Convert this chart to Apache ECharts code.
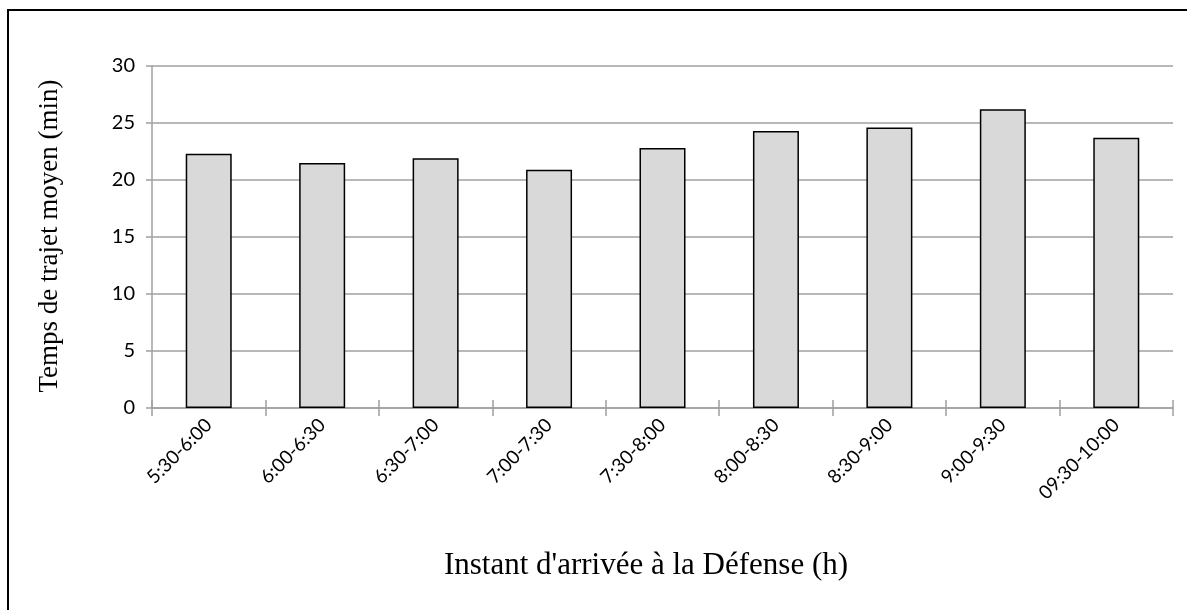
<!DOCTYPE html>
<html>
<head>
<meta charset="utf-8">
<script src="https://cdn.jsdelivr.net/npm/echarts@6/dist/echarts.min.js"></script>
<style>
html,body{margin:0;padding:0;background:#fff;}
#main{width:1187px;height:610px;}
</style>
</head>
<body>
<div id="main"></div>
<script>
const categories = ["5:30-6:00","6:00-6:30","6:30-7:00","7:00-7:30","7:30-8:00","8:00-8:30","8:30-9:00","9:00-9:30","09:30-10:00"];
const travelTimes = [22.3, 21.5, 21.9, 20.9, 22.8, 24.3, 24.6, 26.2, 23.7];
const yTitle = "Temps de trajet moyen (min)";
const xTitle = "Instant d'arrivée à la Défense (h)";

const chart = echarts.init(document.getElementById('main'), null, {renderer:'canvas'});
const gridCol = '#a0a0a0';
chart.setOption({
  animation:false,
  backgroundColor:'#fff',
  grid:{left:152, right:14, top:66, bottom:202},
  xAxis:[{
    type:'category', data:categories, boundaryGap:true,
    axisLine:{show:true, lineStyle:{color:gridCol, width:1.5}},
    axisTick:{show:true, length:8, inside:false, alignWithLabel:false, lineStyle:{color:gridCol, width:1.5}},
    axisLabel:{rotate:45, margin:14, color:'#000', fontSize:19, fontFamily:'Lato'},
    splitLine:{show:false}
  },{
    type:'category', data:categories, position:'bottom', boundaryGap:true,
    axisLine:{show:false},
    axisTick:{show:true, length:8, inside:true, alignWithLabel:false, lineStyle:{color:gridCol, width:1.5}},
    axisLabel:{show:false},
    splitLine:{show:false}
  }],
  yAxis:{
    type:'value', min:0, max:30, interval:5,
    axisLine:{show:true, lineStyle:{color:gridCol, width:1.5}},
    axisTick:{show:true, length:6, lineStyle:{color:gridCol, width:1.5}},
    axisLabel:{margin:17, color:'#000', fontSize:20, fontFamily:'Lato'},
    splitLine:{show:true, lineStyle:{color:gridCol, width:1.5}}
  },
  series:[{
    type:'bar', data:travelTimes, barWidth:46, xAxisIndex:0,
    itemStyle:{color:'#d9d9d9', borderColor:'#000', borderWidth:1.5}
  }],
  graphic:[
    {type:'rect', shape:{x:8, y:10, width:1200, height:620}, style:{fill:'none', stroke:'#000', lineWidth:2}, silent:true, z:-10},
    {type:'text', x:50, y:236, rotation:Math.PI/2, style:{text:yTitle, font:'27px "Liberation Serif"', fill:'#000', textAlign:'center', textVerticalAlign:'middle'}},
    {type:'text', x:646, y:566, style:{text:xTitle, font:'31px "Liberation Serif"', fill:'#000', textAlign:'center', textVerticalAlign:'middle'}}
  ]
});
</script>
</body>
</html>
